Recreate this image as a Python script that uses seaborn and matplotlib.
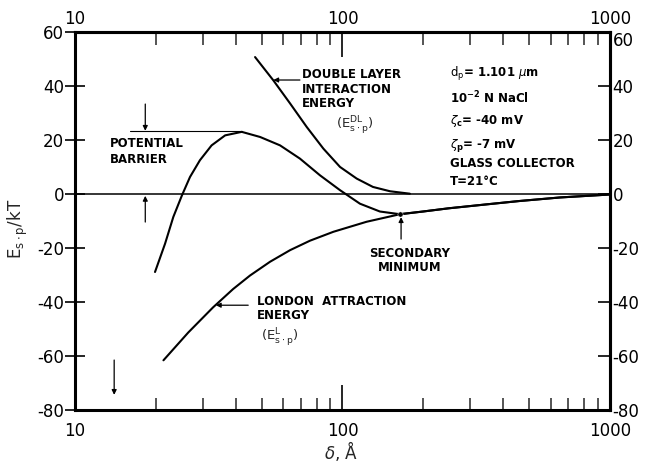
import numpy as np
import pandas as pd
import seaborn as sns
import matplotlib.pyplot as plt
from matplotlib.ticker import NullLocator

# Interaction energy curves (separation in Angstrom, energy in kT)
total_x = [19.9, 21.7, 23.3, 25.1, 26.9, 29.3, 32.4, 36.4, 42.0, 49.2, 58.4, 69.3, 82.4, 97.9, 116.2, 138.0, 164.0, 200.0, 250.0, 350.0, 460.0, 650.0, 1000.0]
total_y = [-28.9, -18.4, -8.5, -0.5, 6.3, 12.5, 18.0, 21.7, 23.0, 21.1, 18.0, 13.1, 6.9, 1.4, -3.6, -6.5, -7.5, -6.5, -5.3, -3.8, -2.6, -1.3, -0.2]

dl_x = [47.1, 55.1, 63.7, 73.5, 84.8, 97.9, 113.0, 130.0, 150.6, 178.6]
dl_y = [50.7, 42.1, 33.5, 24.8, 16.8, 10.0, 5.7, 2.6, 1.0, 0.1]

london_x = [21.4, 26.5, 32.8, 39.0, 45.1, 53.6, 63.7, 75.6, 92.5, 123.0, 164.0, 200.0, 250.0, 350.0, 460.0, 650.0, 1000.0]
london_y = [-61.6, -51.3, -42.0, -35.2, -30.2, -25.1, -20.8, -17.3, -14.0, -10.3, -7.5, -6.5, -5.3, -3.8, -2.6, -1.3, -0.2]

sec_min_x = [164.0]
sec_min_y = [-7.5]

x_ticks = [10, 100, 1000]
x_tick_labels = ["10", "100", "1000"]
y_ticks = [-80, -60, -40, -20, 0, 20, 40, 60]
y_tick_labels = ["-80", "-60", "-40", "-20", "0", "20", "40", "60"]

sns.set_theme(style="white")
plt.rcParams['font.family'] = ['DejaVu Sans']
plt.rcParams['mathtext.fontset'] = 'dejavusans'

fig = plt.figure(figsize=(6.53, 4.63), dpi=100)
ax = fig.add_axes([0.115, 0.1145, 0.819, 0.8165])

lw = 1.5
sns.lineplot(x=total_x, y=total_y, ax=ax, color='black', lw=lw, sort=False, estimator=None)
sns.lineplot(x=dl_x, y=dl_y, ax=ax, color='black', lw=lw, sort=False, estimator=None)
sns.lineplot(x=london_x, y=london_y, ax=ax, color='black', lw=lw, sort=False, estimator=None)
sns.scatterplot(x=sec_min_x, y=sec_min_y, ax=ax, color='black', s=14, zorder=5)

ax.axhline(0, color='black', lw=1.1)

ax.set_xscale('log')
ax.set_xlim(10, 1000)
ax.set_ylim(-80, 60)

for sp in ax.spines.values():
    sp.set_linewidth(2.2)
    sp.set_color('black')

ax.set_xticks(x_ticks)
ax.set_xticklabels(x_tick_labels)
ax.set_yticks(y_ticks)
ax.set_yticklabels(y_tick_labels)
ax.tick_params(axis='x', which='major', direction='in', length=18, width=1.2,
               top=True, bottom=True, labeltop=False, labelsize=12, pad=8.5, colors='black')
ax.tick_params(axis='x', which='minor', direction='in', length=9, width=1.1,
               top=True, bottom=True)
ax.tick_params(axis='y', which='major', direction='inout', length=14, width=1.2,
               left=True, right=False, labelsize=12, pad=1, colors='black')

# Top labels on their own axis so they can sit closer to the frame
top = ax.secondary_xaxis('top')
top.set_xticks(x_ticks)
top.set_xticklabels(x_tick_labels)
top.xaxis.set_minor_locator(NullLocator())
top.tick_params(length=0, labelsize=12, pad=2.5, colors='black')
top.spines['top'].set_linewidth(2.2)

sec = ax.secondary_yaxis('right')
sec.set_yticks(y_ticks)
sec.set_yticklabels(y_tick_labels)
sec.tick_params(direction='in', length=9, width=1.2, labelsize=12, pad=2, colors='black')
sec.spines['right'].set_linewidth(2.2)
# keep the top-right "60" clear of the "1000" above it
for lab in sec.get_yticklabels():
    if lab.get_text() == "60":
        lab.set_va('top')

# Axis labels
fig.text(0.028, 0.505, r"$\mathrm{E_{s\cdot p}/kT}$", rotation=90, ha='center', va='center', fontsize=12)
fig.text(0.522, 0.025, r"$\delta$, Å", ha='center', va='center', fontsize=12)

tkw = dict(fontsize=8.5, fontweight='bold', color='black')
akw = dict(arrowstyle='-|>', color='black', lw=0.9, mutation_scale=7, shrinkA=0, shrinkB=0)

# Potential barrier
ax.plot([16.06, 42.0], [23.2, 23.2], color='black', lw=0.8)
ax.annotate("", xy=(18.3, 23.4), xytext=(18.3, 33.3), arrowprops=akw)
ax.annotate("", xy=(18.3, -0.7), xytext=(18.3, -10.4), arrowprops=akw)
ax.text(13.5, 21.0, "POTENTIAL\nBARRIER", ha='left', va='top', linespacing=1.25, **tkw)

# Double layer
ax.annotate("", xy=(55.1, 42.2), xytext=(69.3, 42.2), arrowprops=akw)
ax.text(70.6, 46.5, "DOUBLE LAYER\nINTERACTION\nENERGY", ha='left', va='top', linespacing=1.15, **tkw)
ax.text(111, 25.5, r"$(\mathrm{E}_{\mathrm{s\cdot p}}^{\mathrm{DL}})$", ha='center', va='center', fontsize=9.5)

# London attraction
ax.annotate("", xy=(33.6, -41.2), xytext=(44.4, -41.2), arrowprops=akw)
ax.text(47.9, -37.3, "LONDON  ATTRACTION\nENERGY", ha='left', va='top', linespacing=1.1, **tkw)
ax.text(58.4, -53.0, r"$(\mathrm{E}_{\mathrm{s\cdot p}}^{\mathrm{L}})$", ha='center', va='center', fontsize=9.5)

# Secondary minimum
ax.annotate("", xy=(165.6, -8.6), xytext=(165.6, -16.7), arrowprops=akw)
ax.text(178.6, -19.5, "SECONDARY\nMINIMUM", ha='center', va='top', linespacing=1.1, **tkw)

# Stray arrow near the lower left
ax.annotate("", xy=(14.0, -74.4), xytext=(14.0, -61.5), arrowprops=akw)

# Conditions
cx = 252
ax.text(cx, 44.4, r"$\mathrm{d_p}$= 1.101 $\mu$m", ha='left', va='center', **tkw)
ax.text(cx, 35.6, r"$\mathbf{10^{-2}}$ N NaCl", ha='left', va='center', **tkw)
ax.text(cx, 27.0, r"$\zeta_\mathbf{c}$= -40 mV", ha='left', va='center', **tkw)
ax.text(cx, 18.1, r"$\zeta_\mathbf{p}$= -7 mV", ha='left', va='center', **tkw)
ax.text(cx, 11.1, "GLASS COLLECTOR", ha='left', va='center', **tkw)
ax.text(cx, 4.8, "T=21°C", ha='left', va='center', **tkw)

fig.savefig("out.png", dpi=100)
